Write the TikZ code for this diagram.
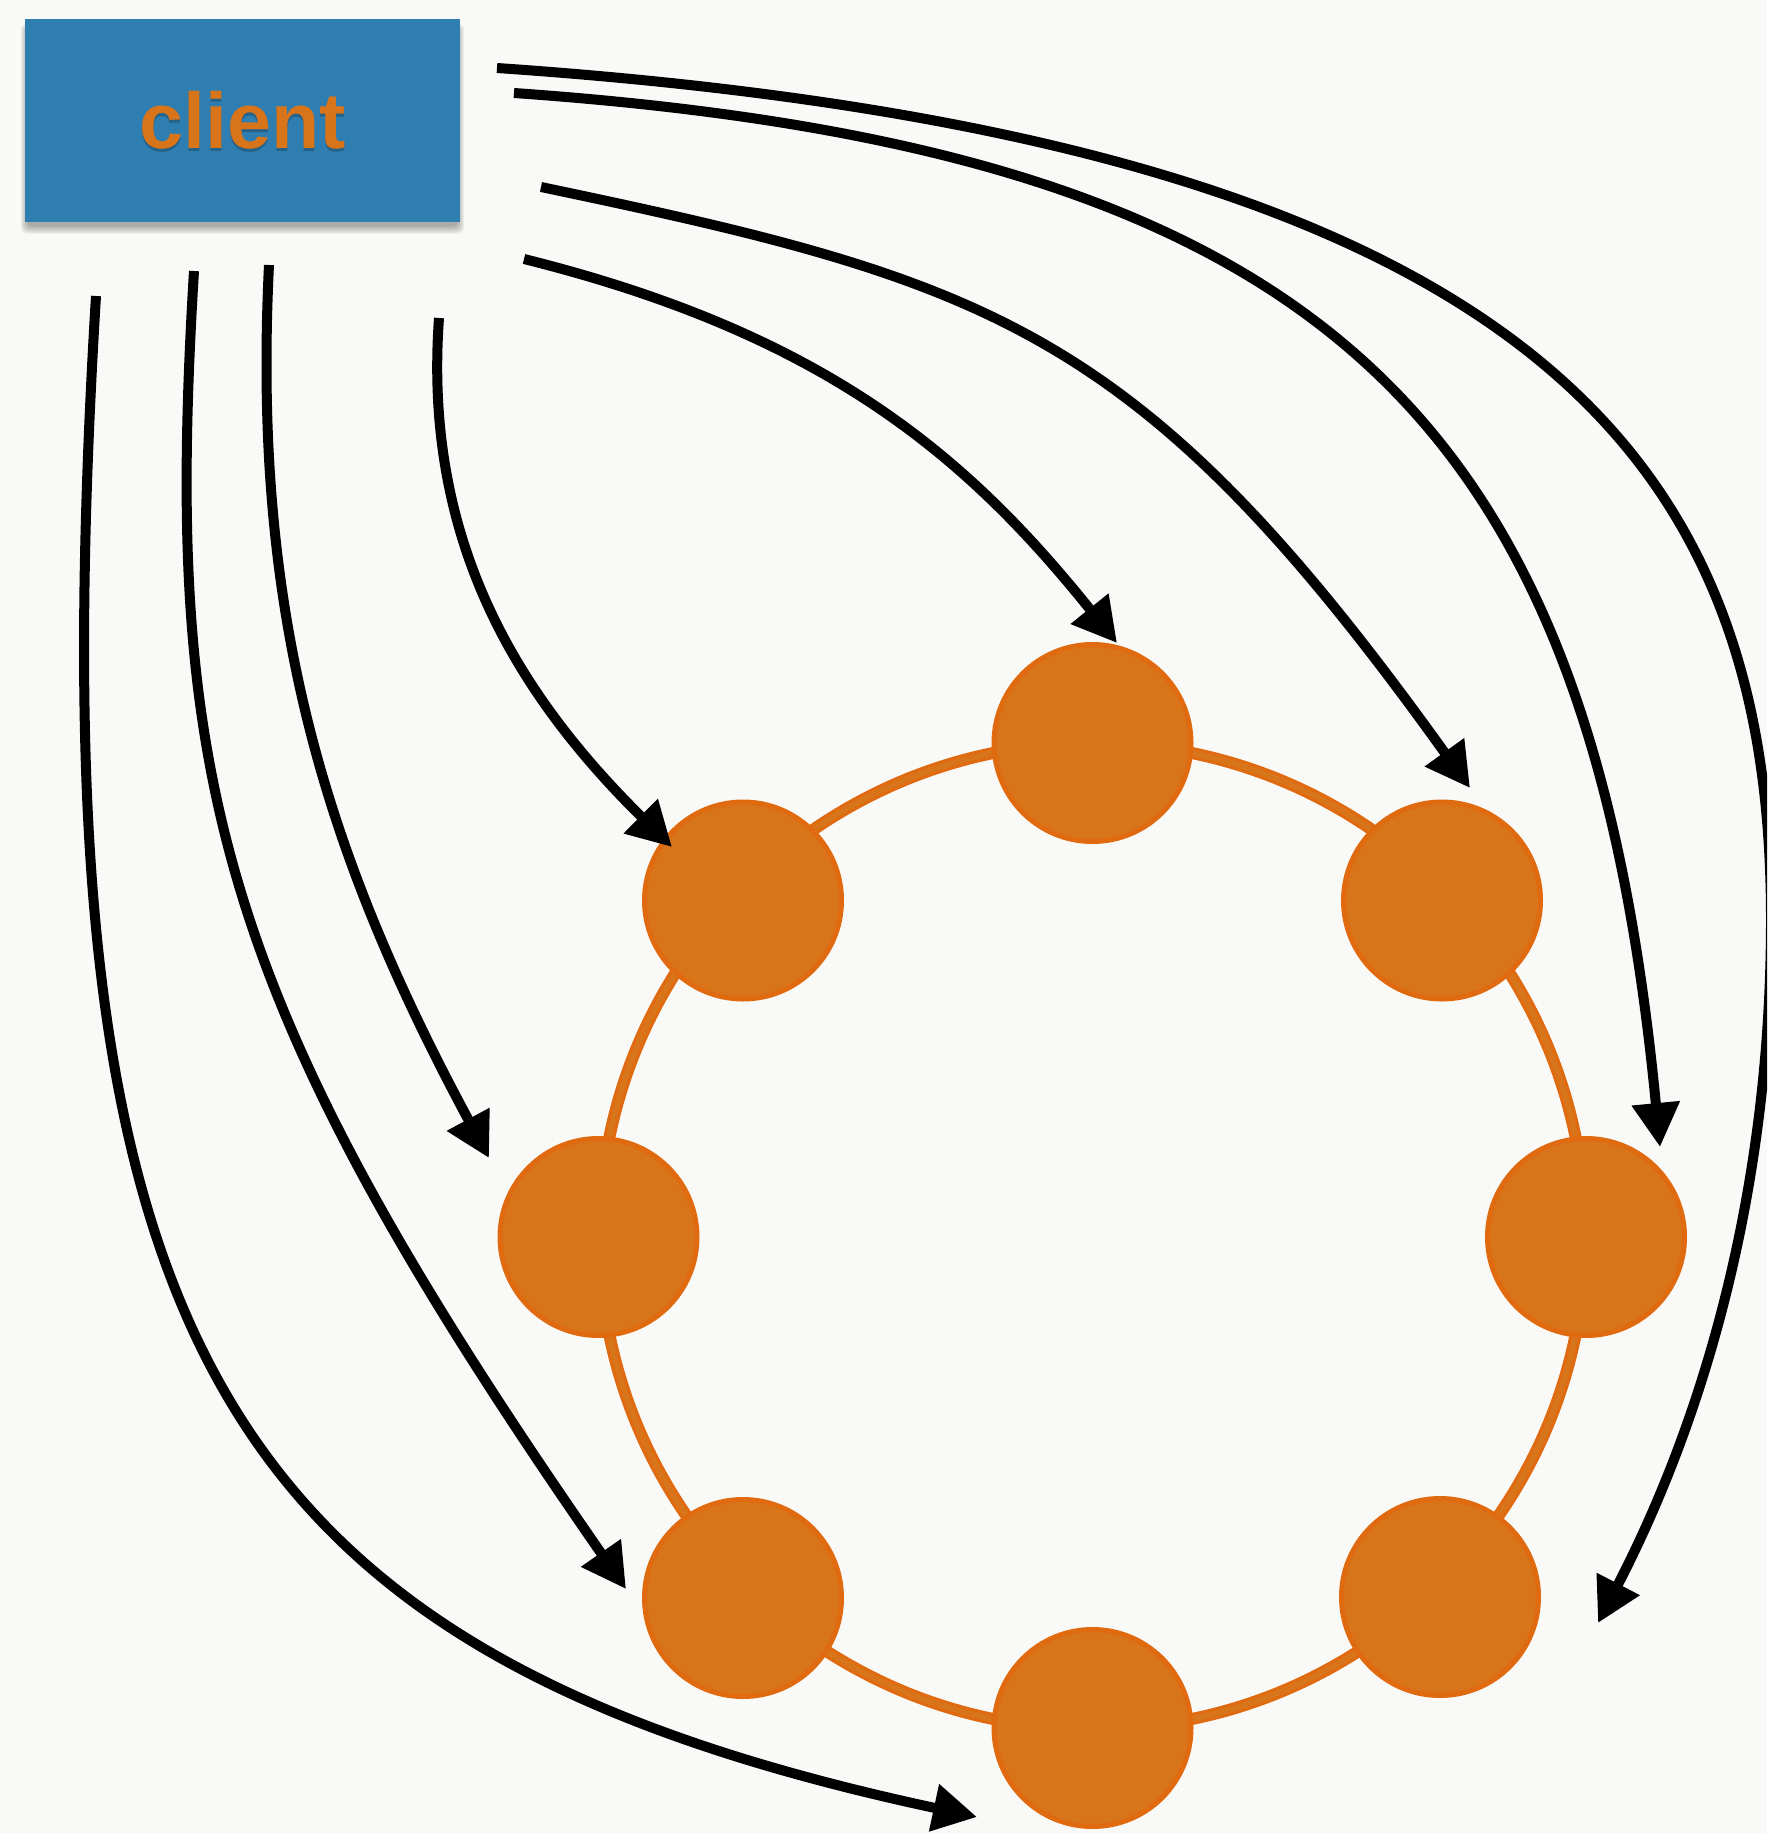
\documentclass[tikz,border=0pt]{standalone}
\usepackage{fontspec}
\setmainfont{Liberation Sans}
\usetikzlibrary{arrows.meta}
\definecolor{paper}{HTML}{F9F9F7}
\definecolor{boxblue}{HTML}{2F7EB1}
\definecolor{nodeorange}{HTML}{D87419}
\definecolor{rimorange}{HTML}{E06A10}

\begin{document}
\begin{tikzpicture}[x=1pt,y=-1pt,
  peer/.style={circle, fill=nodeorange, draw=rimorange, line width=5pt,
    minimum size=197pt, inner sep=0pt},
  call/.style={line width=10pt, -{Triangle[length=44pt,width=46pt]}},
  clientbox/.style={fill=boxblue, minimum width=435pt, minimum height=203pt,
    inner sep=0pt},
  clientlabel/.style={font=\fontsize{79}{90}\selectfont\bfseries, inner sep=0pt},
]
\useasboundingbox (0,0) rectangle (1767,1833);
\clip (0,0) rectangle (1767,1833);
\fill[paper] (0,0) rectangle (1767,1833);

% the ring of peers
\coordinate (ring) at (1092.5,1236);
\draw[rimorange, line width=12pt] (ring) circle[radius=493];
\draw[nodeorange, line width=6pt] (ring) circle[radius=493];
\node[peer] (n)  at (1092.5,743)  {};
\node[peer] (ne) at (1442,900.5)  {};
\node[peer] (e)  at (1586,1237)   {};
\node[peer] (se) at (1440,1597)   {};
\node[peer] (s)  at (1092.5,1728) {};
\node[peer] (sw) at (743,1598)    {};
\node[peer] (w)  at (598.5,1237)  {};
\node[peer] (nw) at (743,900.5)   {};

% client box with its soft shadow
\foreach \d in {1,...,9}
  \fill[black, opacity=0.04, rounded corners=6pt]
    ({28-\d*0.8},{28-\d*0.5}) rectangle ({457+\d*0.8},{225+\d});
\node[clientbox] (client) at (242.5,120.5) {};
\node[clientlabel, text=black, opacity=0.22] (clientshade)
  at ([xshift=0.5pt,yshift=-2.5pt]client.center) {client};
\node[clientlabel, text=nodeorange] (clientname) at (client.center) {client};

% requests from the client to the peers
\coordinate (s1) at (497,68);   \coordinate (t1) at (1598,1623);
\coordinate (k1) at (1771,920);
\coordinate (s2) at (514,93);   \coordinate (t2) at (1660,1147);
\coordinate (s3) at (541,187);  \coordinate (t3) at (1470,788);
\coordinate (s4) at (524,259);  \coordinate (t4) at (1117,643);
\coordinate (s5) at (439,318);  \coordinate (t5) at (672,847);
\coordinate (s6) at (269,265);  \coordinate (t6) at (489,1158);
\coordinate (s7) at (194,271);  \coordinate (t7) at (626,1589);
\coordinate (s8) at (96,296);   \coordinate (t8) at (977,1817);

\draw[call] (s1) .. controls (1550,140) and (1771,470) .. (k1)
                 .. controls (1771,1170) and (1713,1401) .. (t1);
\draw[call] (s2) .. controls (1330,150) and (1590,420) .. (t2);
\draw[call] (s3) .. controls (994,282) and (1141,329) .. (t3);
\draw[call] (s4) .. controls (825,334) and (967,456) .. (t4);
\draw[call] (s5) .. controls (423,540) and (516,693) .. (t5);
\draw[call] (s6) .. controls (252,611) and (322,848) .. (t6);
\draw[call] (s7) .. controls (163,780) and (217,1000) .. (t7);
\draw[call] (s8) .. controls (34,1321) and (199,1650) .. (t8);
\end{tikzpicture}
\end{document}
